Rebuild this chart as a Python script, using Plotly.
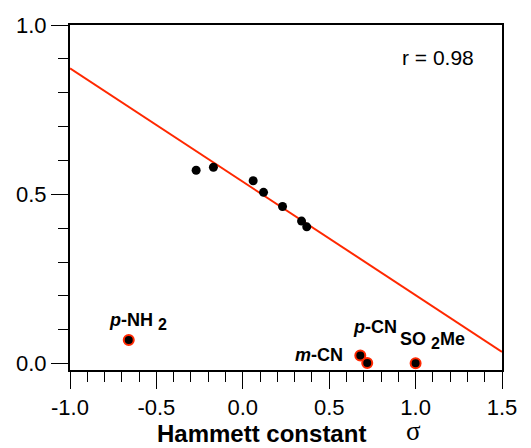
import plotly.graph_objects as go

# Data
sigma_fit = [-0.27, -0.17, 0.06, 0.12, 0.23, 0.34, 0.37]
yield_fit = [0.571, 0.580, 0.540, 0.506, 0.464, 0.421, 0.404]

sigma_out = [-0.66, 0.68, 0.72, 1.00]
yield_out = [0.070, 0.024, 0.002, 0.001]

line_x = [-1.0, 1.5]
line_y = [0.872, 0.035]

label_text = ["<i>p</i>-NH <sub><span style='font-size:16px'>2</span></sub>",
              "<i>p</i>-CN",
              "<i>m</i>-CN",
              "SO <sub><span style='font-size:16px'>2</span></sub>Me"]
label_x = [-0.784, 0.625, 0.292, 0.900]
label_y = [0.126, 0.108, 0.026, 0.068]

x_range = [-1.0, 1.5]
y_range = [-0.0186, 1.0]
x_ticks = [-1.0, -0.5, 0.0, 0.5, 1.0, 1.5]
y_ticks = [0.0, 0.5, 1.0]

FONT = "Liberation Sans, Arial, Helvetica, sans-serif"
SERIF = "Liberation Serif, Times New Roman, serif"
RED = "rgb(255,40,0)"

fig = go.Figure()
fig.add_trace(go.Scatter(x=line_x, y=line_y, mode="lines",
                         line=dict(color=RED, width=2), hoverinfo="skip"))
fig.add_trace(go.Scatter(x=sigma_fit, y=yield_fit, mode="markers",
                         marker=dict(color="black", size=9)))
fig.add_trace(go.Scatter(x=sigma_out, y=yield_out, mode="markers",
                         marker=dict(color="black", size=10,
                                     line=dict(color=RED, width=2)),
                         cliponaxis=False))

for t, x, y in zip(label_text, label_x, label_y):
    fig.add_annotation(x=x, y=y, xref="x", yref="y", text="<b>" + t + "</b>",
                       showarrow=False, xanchor="left", yanchor="middle",
                       font=dict(family=FONT, size=18, color="black"))

fig.add_annotation(x=1.127, y=0.903, xref="x", yref="y", text="r = 0.98",
                   showarrow=False, xanchor="center", yanchor="middle",
                   font=dict(family=FONT, size=21, color="black"))

# axis title: words and sigma symbol
fig.add_annotation(
    x=(261 - 70) / 432, y=-(433 - 370) / 345, xref="paper", yref="paper",
    text="<b>Hammett constant</b>",
    showarrow=False, xanchor="center", yanchor="middle",
    font=dict(family=FONT, size=24, color="black"))
fig.add_annotation(
    x=(413 - 70) / 432, y=-(448 - 370) / 345, xref="paper", yref="paper",
    text="σ",
    showarrow=False, xanchor="center", yanchor="bottom",
    font=dict(family=SERIF, size=27, color="black"))

fig.update_xaxes(range=x_range, tickvals=x_ticks, ticktext=["%.1f" % v for v in x_ticks],
                 ticks="outside", ticklen=17, tickwidth=1, tickcolor="black",
                 minor=dict(dtick=0.1, tick0=0, ticks="outside", ticklen=10, tickwidth=1, tickcolor="black"),
                 showline=True, linecolor="black", linewidth=2, mirror=True,
                 showgrid=False, zeroline=False,
                 tickfont=dict(family=FONT, size=22, color="black"))
fig.update_yaxes(range=y_range, tickvals=y_ticks, ticktext=["%.1f" % v for v in y_ticks],
                 ticks="outside", ticklen=17, tickwidth=1, tickcolor="black",
                 minor=dict(dtick=0.1, tick0=0, ticks="outside", ticklen=10, tickwidth=1, tickcolor="black"),
                 showline=True, linecolor="black", linewidth=2, mirror=True,
                 showgrid=False, zeroline=False,
                 tickfont=dict(family=FONT, size=22, color="black"))

fig.update_layout(width=531, height=448, showlegend=False,
                  margin=dict(l=70, r=29, t=25, b=78, autoexpand=False),
                  plot_bgcolor="white", paper_bgcolor="white")

fig.write_html("out.html", config={"displayModeBar": False},
               post_script="document.body.style.margin='0';document.body.style.overflow='hidden';")
